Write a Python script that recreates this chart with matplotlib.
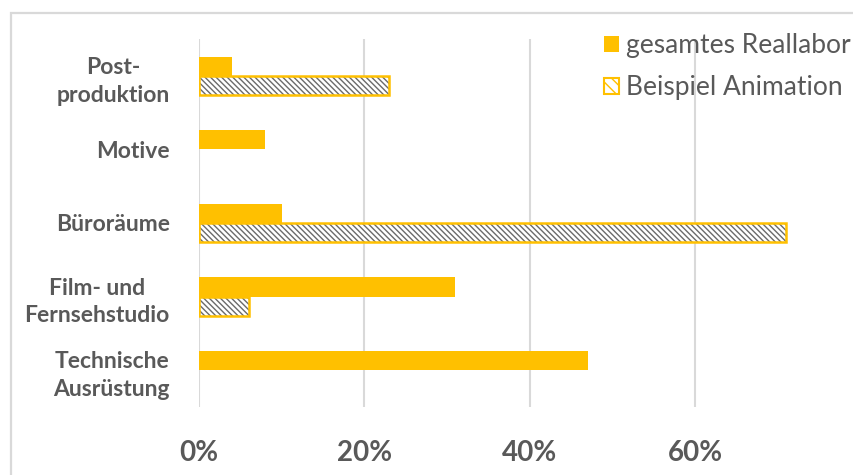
import numpy as np
import matplotlib
matplotlib.use("Agg")
import matplotlib.pyplot as plt
from matplotlib.patches import Rectangle, Patch

# categories from bottom to top
categories = ["Technische\nAusrüstung", "Film- und\nFernsehstudio", "Büroräume",
              "Motive", "Post-\nproduktion"]
gesamt = [0.47, 0.31, 0.10, 0.08, 0.04]
animation = [0.0, 0.06, 0.71, 0.0, 0.23]
xticks = [0.0, 0.2, 0.4, 0.6]
xticklabels = ["0%", "20%", "40%", "60%"]

yellow = "#ffc000"
grey_text = "#595959"
grid_grey = "#d9d9d9"
hatch_grey = "#6a6a6a"
hatch = "\\" * 6

plt.rcParams["font.family"] = ["Lato", "DejaVu Sans"]
plt.rcParams["hatch.linewidth"] = 1.0

W, H = 854, 475
fig = plt.figure(figsize=(W / 100, H / 100), dpi=100)

# light frame around the chart
fig.patches.append(Rectangle((11 / W, -0.1), 1.2, 1 - 13 / H + 0.1,
                             transform=fig.transFigure, fill=False,
                             edgecolor=grid_grey, linewidth=1.6))

x0, x1 = 199, 811
y_top, y_bot = 39, 407
ax = fig.add_axes([x0 / W, 1 - y_bot / H, (x1 - x0) / W, (y_bot - y_top) / H])

y = np.arange(len(categories))
h = 0.26
anim = np.array(animation)
has_anim = anim > 0

ax.barh(y + h / 2, gesamt, height=h, color=yellow, linewidth=0, zorder=3)
# hatched bars: hatch in grey, outline in yellow
ax.barh(y[has_anim] - h / 2, anim[has_anim], height=h, facecolor="white",
        edgecolor=hatch_grey, hatch=hatch, linewidth=0, zorder=3)
ax.barh(y[has_anim] - h / 2, anim[has_anim], height=h, fill=False,
        edgecolor=yellow, linewidth=1.8, zorder=4)

ax.set_xlim(0, 0.74)
ax.set_ylim(-0.5, len(categories) - 0.5)
ax.set_xticks(xticks)
ax.set_xticklabels(xticklabels, fontsize=20, fontweight="bold", color=grey_text)
ax.set_yticks(y)
ax.set_yticklabels(categories, fontsize=16.5, fontweight="bold", color=grey_text,
                   multialignment="center", linespacing=1.4)
ax.tick_params(axis="x", length=0, pad=24)
ax.tick_params(axis="y", length=0, pad=21)

ax.grid(axis="x", color=grid_grey, linewidth=1.5, zorder=0)
ax.set_axisbelow(True)
for s in ax.spines.values():
    s.set_visible(False)

handles = [Patch(facecolor=yellow, linewidth=0),
           Patch(facecolor="white", edgecolor=yellow, hatch="\\\\\\", linewidth=1.5)]
leg = fig.legend(handles, ["gesamtes Reallabor", "Beispiel Animation"],
                 loc="upper left", bbox_to_anchor=(604 / W, 1 - 33 / H),
                 frameon=False, fontsize=19, labelcolor=grey_text,
                 handlelength=0.55, handleheight=0.55, handletextpad=0.3,
                 labelspacing=0.65, borderpad=0, borderaxespad=0)

fig.savefig("out.png", dpi=100, facecolor="white")
